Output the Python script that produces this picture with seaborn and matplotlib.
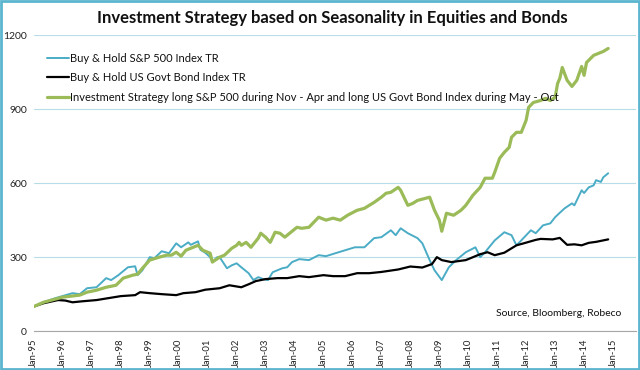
# Investment strategy vs buy & hold - seasonality chart

import pandas as pd
import matplotlib
matplotlib.use("Agg")
import matplotlib.pyplot as plt
import matplotlib.dates as mdates
from matplotlib.patches import Rectangle
import seaborn as sns

# Data (index, Jan-95 = 100)
sp_dates = ["1995-01", "1995-05", "1995-10", "1996-05", "1996-08", "1996-11", "1997-03", "1997-07",
            "1997-09", "1997-12", "1998-04", "1998-07", "1998-08", "1998-10", "1999-01", "1999-03",
            "1999-06", "1999-09", "1999-12", "2000-02", "2000-05", "2000-06", "2000-09", "2000-10",
            "2000-12", "2001-02", "2001-03", "2001-05", "2001-06", "2001-09", "2001-11", "2002-01",
            "2002-03", "2002-06", "2002-08", "2002-10", "2002-12", "2003-02", "2003-04", "2003-08",
            "2003-10", "2003-12", "2004-03", "2004-07", "2004-11", "2005-02", "2005-06", "2005-10",
            "2006-02", "2006-06", "2006-10", "2007-01", "2007-05", "2007-07", "2007-09", "2007-12",
            "2008-04", "2008-06", "2008-09", "2008-11", "2009-02", "2009-05", "2009-08", "2009-12",
            "2010-04", "2010-06", "2010-08", "2010-12", "2011-04", "2011-07", "2011-09", "2011-11",
            "2012-03", "2012-05", "2012-08", "2012-11", "2013-01", "2013-03", "2013-05", "2013-08",
            "2013-09", "2013-12", "2014-01", "2014-03", "2014-05", "2014-06", "2014-08", "2014-09",
            "2014-11"]
sp_vals = [100, 117, 134, 154, 150, 174, 178, 215,
           207, 227, 259, 263, 227, 247, 300, 296,
           324, 316, 356, 340, 360, 350, 364, 330,
           318, 300, 280, 300, 300, 255, 267, 275,
           259, 235, 207, 219, 211, 207, 239, 255,
           259, 280, 292, 288, 308, 304, 316, 328,
           340, 340, 377, 381, 409, 389, 417, 397,
           377, 356, 288, 247, 207, 259, 288, 320,
           340, 300, 320, 368, 401, 389, 348, 368,
           409, 397, 429, 437, 462, 480, 498, 518,
           510, 571, 560, 583, 591, 612, 605, 624,
           640]

bond_dates = ["1995-01", "1995-05", "1995-11", "1996-02", "1996-05", "1996-09", "1997-03", "1997-08",
              "1998-01", "1998-07", "1998-09", "1999-01", "1999-06", "1999-12", "2000-03", "2000-08",
              "2000-12", "2001-06", "2001-10", "2002-03", "2002-06", "2002-09", "2003-01", "2003-06",
              "2003-10", "2004-03", "2004-07", "2005-01", "2005-05", "2005-10", "2006-03", "2006-08",
              "2007-01", "2007-08", "2008-01", "2008-06", "2008-10", "2008-12", "2009-02", "2009-06",
              "2009-12", "2010-06", "2010-09", "2010-12", "2011-04", "2011-09", "2011-12", "2012-05",
              "2012-07", "2012-12", "2013-03", "2013-06", "2013-09", "2013-12", "2014-03", "2014-06",
              "2014-11"]
bond_vals = [100, 113, 126, 124, 117, 121, 126, 134,
             142, 146, 158, 154, 150, 146, 154, 158,
             168, 174, 186, 178, 190, 203, 211, 215,
             215, 223, 219, 227, 223, 223, 235, 235,
             240, 250, 262, 258, 272, 300, 288, 280,
             288, 312, 320, 308, 318, 348, 356, 370,
             374, 372, 378, 350, 352, 348, 358, 362,
             372]

strat_dates = ["1995-01", "1995-05", "1996-01", "1996-08", "1996-11", "1997-03", "1997-07", "1997-11",
               "1998-02", "1998-06", "1998-08", "1998-10", "1999-01", "1999-05", "1999-08", "1999-10",
               "1999-12", "2000-02", "2000-04", "2000-09", "2000-11", "2001-02", "2001-03", "2001-06",
               "2001-08", "2001-11", "2002-01", "2002-02", "2002-03", "2002-05", "2002-07", "2002-10",
               "2002-11", "2003-01", "2003-03", "2003-05", "2003-07", "2003-09", "2003-11", "2004-02",
               "2004-04", "2004-07", "2004-11", "2005-02", "2005-05", "2005-08", "2005-11", "2006-03",
               "2006-06", "2006-10", "2007-01", "2007-03", "2007-05", "2007-08", "2007-09", "2007-12",
               "2008-02", "2008-04", "2008-09", "2008-11", "2009-01", "2009-02", "2009-04", "2009-07",
               "2009-10", "2009-12", "2010-03", "2010-06", "2010-08", "2010-11", "2010-12", "2011-02",
               "2011-04", "2011-06", "2011-07", "2011-09", "2011-11", "2012-01", "2012-02", "2012-04",
               "2012-07", "2012-09", "2012-11", "2013-01", "2013-02", "2013-03", "2013-04", "2013-06",
               "2013-08", "2013-10", "2013-12", "2014-01", "2014-02", "2014-05", "2014-07", "2014-09",
               "2014-11"]
strat_vals = [100, 117, 138, 146, 158, 166, 178, 186,
              215, 227, 231, 255, 288, 300, 308, 308,
              320, 304, 328, 348, 328, 316, 280, 300,
              308, 336, 348, 360, 348, 360, 340, 377,
              397, 381, 360, 401, 397, 381, 397, 421,
              417, 421, 462, 450, 458, 450, 470, 490,
              498, 522, 543, 559, 563, 583, 571, 510,
              518, 530, 543, 490, 450, 405, 478, 470,
              490, 510, 551, 583, 620, 620, 644, 701,
              725, 745, 786, 806, 806, 855, 907, 927,
              935, 944, 935, 948, 1004, 1025, 1069, 1017,
              992, 1017, 1073, 1037, 1089, 1118, 1126, 1134,
              1146]

labels = ["Buy & Hold S&P 500 Index TR",
          "Buy & Hold US Govt Bond Index TR",
          "Investment Strategy long S&P 500 during Nov - Apr and long US Govt Bond Index during May - Oct"]
colors = ["#4BACC6", "#000000", "#9BBB59"]
yticks = [0, 300, 600, 900, 1200]

sp = pd.DataFrame({"date": pd.to_datetime(sp_dates), "value": sp_vals})
bond = pd.DataFrame({"date": pd.to_datetime(bond_dates), "value": bond_vals})
strat = pd.DataFrame({"date": pd.to_datetime(strat_dates), "value": strat_vals})

sns.set_style("white")
plt.rcParams["font.family"] = ["Lato", "DejaVu Sans"]

fig = plt.figure(figsize=(6.4, 3.7), dpi=100)
ax = fig.add_axes([0.053, 0.105, 0.941, 0.8])

sns.lineplot(data=sp, x="date", y="value", ax=ax, color=colors[0], linewidth=1.4, label=labels[0])
sns.lineplot(data=bond, x="date", y="value", ax=ax, color=colors[1], linewidth=1.6, label=labels[1])
sns.lineplot(data=strat, x="date", y="value", ax=ax, color=colors[2], linewidth=2.3, label=labels[2])

# axes
ax.set_ylim(0, 1200)
ax.set_yticks(yticks)
ax.set_xlim(pd.Timestamp("1995-01-01"), pd.Timestamp("2015-10-20"))
ax.xaxis.set_major_locator(mdates.YearLocator(1, month=1, day=1))
ax.xaxis.set_major_formatter(mdates.DateFormatter("Jan-%y"))
ax.set_xlabel("")
ax.set_ylabel("")
ax.grid(axis="y", color="#B7DDE8", linewidth=0.8)
ax.grid(axis="x", visible=False)
for s in ["top", "right", "left"]:
    ax.spines[s].set_visible(False)
ax.spines["bottom"].set_color("#A6A6A6")
ax.spines["bottom"].set_linewidth(0.8)
ax.tick_params(axis="x", which="major", direction="out", length=4, color="#A6A6A6",
               labelsize=6.8, rotation=90, pad=1.5)
ax.tick_params(axis="y", length=0, labelsize=7.5, pad=5)
for t in ax.get_yticklabels():
    t.set_color("#222222")
for t in ax.get_xticklabels():
    t.set_color("#222222")

leg = ax.legend(loc="upper left", bbox_to_anchor=(0.015, 0.955), frameon=False, fontsize=8,
                handlelength=1.9, handletextpad=0.15, labelspacing=0.75, borderaxespad=0)
for t in leg.get_texts():
    t.set_color("#111111")

fig.text(0.52, 0.952, "Investment Strategy based on Seasonality in Equities and Bonds",
         ha="center", va="center", fontsize=12, fontweight="bold", color="#111111")
ax.text(0.975, 0.045, "Source, Bloomberg, Robeco", transform=ax.transAxes,
        ha="right", va="bottom", fontsize=7.5, color="#111111")

# light blue frame round the picture
fig.patches.append(Rectangle((0.0015, 0.0025), 0.997, 0.995, transform=fig.transFigure,
                             fill=False, edgecolor="#5BB5CF", linewidth=2))

fig.savefig("out.png", dpi=100)
